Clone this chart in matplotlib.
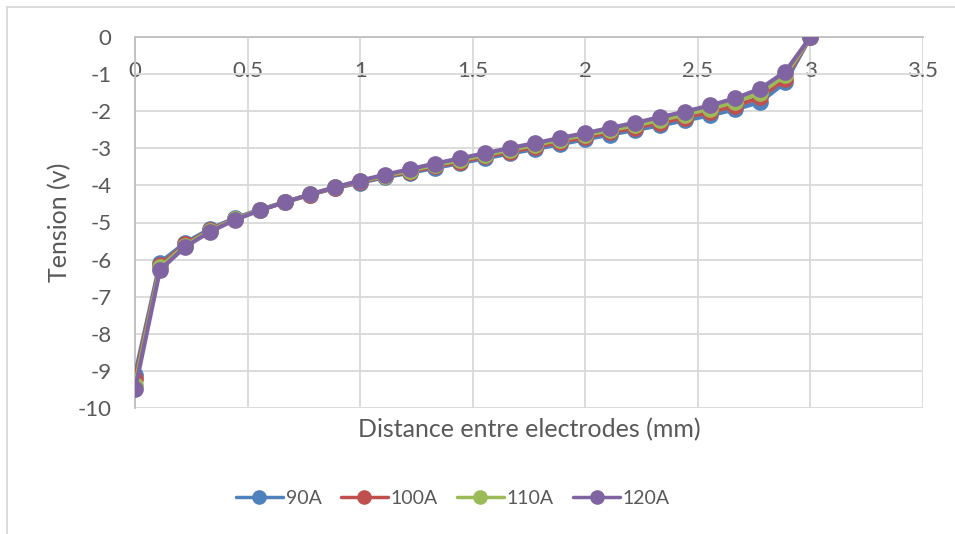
import matplotlib.pyplot as plt
from matplotlib.lines import Line2D

# distance entre electrodes (mm), pas de 1/9 mm
distance = [0.0, 0.111, 0.222, 0.333, 0.444, 0.556, 0.667, 0.778, 0.889, 1.0,
            1.111, 1.222, 1.333, 1.444, 1.556, 1.667, 1.778, 1.889, 2.0,
            2.111, 2.222, 2.333, 2.444, 2.556, 2.667, 2.778, 2.889, 3.0]

tension_90A = [-9.10, -6.08, -5.55, -5.17, -4.88, -4.65, -4.45, -4.25, -4.07, -3.93,
               -3.78, -3.66, -3.53, -3.40, -3.27, -3.14, -3.02, -2.89, -2.76,
               -2.63, -2.51, -2.38, -2.25, -2.11, -1.95, -1.75, -1.22, 0.0]
tension_100A = [-9.23, -6.15, -5.59, -5.20, -4.90, -4.66, -4.45, -4.25, -4.06, -3.91,
                -3.76, -3.63, -3.49, -3.36, -3.22, -3.09, -2.97, -2.83, -2.70,
                -2.57, -2.44, -2.31, -2.17, -2.02, -1.85, -1.63, -1.12, 0.0]
tension_110A = [-9.37, -6.21, -5.62, -5.22, -4.91, -4.66, -4.45, -4.24, -4.05, -3.89,
                -3.74, -3.60, -3.45, -3.32, -3.18, -3.04, -2.91, -2.77, -2.64,
                -2.51, -2.38, -2.24, -2.09, -1.93, -1.75, -1.51, -1.03, 0.0]
tension_120A = [-9.50, -6.28, -5.66, -5.25, -4.93, -4.67, -4.45, -4.24, -4.05, -3.87,
                -3.71, -3.56, -3.41, -3.27, -3.13, -2.99, -2.86, -2.72, -2.59,
                -2.45, -2.31, -2.16, -2.01, -1.84, -1.65, -1.39, -0.93, 0.0]

series = [("90A", tension_90A, "#4F81BD"),
          ("100A", tension_100A, "#C0504D"),
          ("110A", tension_110A, "#9BBB59"),
          ("120A", tension_120A, "#8064A2")]

plt.rcParams['font.family'] = ['Lato', 'DejaVu Sans']
plt.rcParams['axes.unicode_minus'] = False
gris_texte = "#595959"

fig = plt.figure(figsize=(9.55, 5.34), dpi=100)
ax = fig.add_axes([135 / 955, 1 - 408 / 534, 788 / 955, 371 / 534])

for nom, valeurs, couleur in series:
    ax.plot(distance, valeurs, color=couleur, linewidth=3, marker="o",
            markersize=11, label=nom, solid_capstyle="round", zorder=3)

ax.set_xlim(0, 3.5)
ax.set_ylim(-10, 0)
ax.set_xticks([0, 0.5, 1, 1.5, 2, 2.5, 3, 3.5])
ax.set_xticklabels(["0", "0.5", "1", "1.5", "2", "2.5", "3", "3.5"])
ax.set_yticks(range(-10, 1))

# axe horizontal qui coupe en y = 0 (en haut)
for cote in ["top", "right"]:
    ax.spines[cote].set_visible(False)
ax.spines["bottom"].set_position(("data", 0))
ax.spines["bottom"].set_color("#BFBFBF")
ax.spines["left"].set_color("#BFBFBF")
ax.spines["bottom"].set_linewidth(1.3)
ax.spines["left"].set_linewidth(1.3)
ax.grid(True, color="#D9D9D9", linewidth=1.3, zorder=0)
ax.set_axisbelow(True)
ax.tick_params(length=0, labelsize=16, colors=gris_texte)
ax.tick_params(axis="x", pad=17)
ax.tick_params(axis="y", pad=17)

fig.text(529 / 955, 1 - 430 / 534, "Distance entre electrodes (mm)", ha="center",
         va="center", fontsize=18, color=gris_texte)
fig.text(60 / 955, 1 - 222 / 534, "Tension (v)", ha="center", va="center",
         rotation=90, fontsize=18, color=gris_texte)

poignees = [Line2D([], [], color=c, linewidth=2.5, marker="o", markersize=9.5,
                   solid_capstyle="round") for _, _, c in series]
fig.legend(poignees, [s[0] for s in series], loc="center",
           bbox_to_anchor=(453 / 955, 1 - 498 / 534), ncol=4, frameon=False,
           fontsize=14, labelcolor=gris_texte, handlelength=2.4,
           handletextpad=0.15, columnspacing=1.0)

# bordure du graphique
fig.add_artist(Line2D([7 / 955, 1], [1 - 7 / 534] * 2, color="#D9D9D9", linewidth=1.3))
fig.add_artist(Line2D([7 / 955] * 2, [0, 1 - 7 / 534], color="#D9D9D9", linewidth=1.3))

fig.savefig("out.png", dpi=100)
